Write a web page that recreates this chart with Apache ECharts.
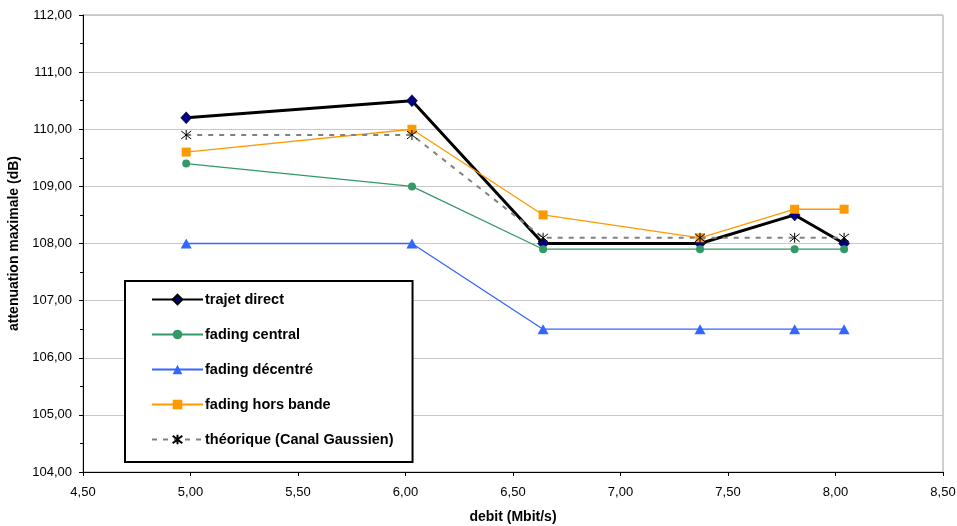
<!DOCTYPE html>
<html>
<head>
<meta charset="utf-8">
<script src="https://cdn.jsdelivr.net/npm/echarts@6/dist/echarts.min.js"></script>
<style>
  html, body { margin: 0; padding: 0; background: #fff; }
  #chart { width: 957px; height: 526px; }
</style>
</head>
<body>
<div id="chart"></div>
<script>
// Débit (Mbit/s) of each measurement
const debit = [4.98, 6.03, 6.64, 7.37, 7.81, 8.04];

// Atténuation maximale (dB) per channel type
const trajetDirect    = [110.2, 110.5, 108.0, 108.0, 108.5, 108.0];
const fadingCentral   = [109.4, 109.0, 107.9, 107.9, 107.9, 107.9];
const fadingDecentre  = [108.0, 108.0, 106.5, 106.5, 106.5, 106.5];
const fadingHorsBande = [109.6, 110.0, 108.5, 108.1, 108.6, 108.6];
const theorique       = [109.9, 109.9, 108.1, 108.1, 108.1, 108.1];

const seriesNames = [
  'trajet direct',
  'fading central',
  'fading décentré',
  'fading hors bande',
  'théorique (Canal Gaussien)'
];

const pairs = ys => debit.map((x, i) => [x, ys[i]]);
const fr = v => v.toFixed(2).replace('.', ',');
const FONT = "'Liberation Sans', Arial, Helvetica, sans-serif";

// asterisk marker: vertical stroke plus an X
const asterisk = 'path://M5,0L5,10M0,1L10,9M10,1L0,9';

const chart = echarts.init(document.getElementById('chart'), null, { renderer: 'canvas' });

chart.setOption({
  backgroundColor: '#ffffff',
  animation: false,
  textStyle: { fontFamily: FONT },
  grid: {
    left: 83, top: 15, right: 14, bottom: 54,
    containLabel: false,
    outerBoundsMode: 'none',
    show: true, borderColor: '#a0a0a0', borderWidth: 1, backgroundColor: '#ffffff'
  },
  legend: {
    orient: 'vertical',
    left: 125, top: 281,
    padding: [11, 19, 15, 26],
    itemWidth: 51,
    itemHeight: 12,
    itemGap: 20,
    backgroundColor: '#ffffff',
    borderColor: '#000000',
    borderWidth: 2,
    borderRadius: 0,
    textStyle: { fontFamily: FONT, fontSize: 14.5, fontWeight: 'bold', color: '#000', padding: [0, 0, 0, -3] },
    data: seriesNames
  },
  xAxis: {
    type: 'value',
    min: 4.5, max: 8.5, interval: 0.5,
    name: 'debit (Mbit/s)',
    nameLocation: 'middle',
    nameGap: 38,
    nameTextStyle: { fontFamily: FONT, fontSize: 14, fontWeight: 'bold', color: '#000' },
    axisLine: { show: true, onZero: false, lineStyle: { color: '#000', width: 1 } },
    axisTick: { show: true, length: 4, lineStyle: { color: '#000' } },
    axisLabel: { formatter: fr, fontFamily: FONT, fontSize: 13, color: '#000', margin: 14 },
    splitLine: { show: false }
  },
  yAxis: {
    type: 'value',
    min: 104, max: 112, interval: 1,
    name: 'attenuation maximale (dB)',
    nameLocation: 'middle',
    nameGap: 59,
    nameTextStyle: { fontFamily: FONT, fontSize: 14, fontWeight: 'bold', color: '#000' },
    axisLine: { show: true, onZero: false, lineStyle: { color: '#000', width: 1 } },
    axisTick: { show: true, length: 4, lineStyle: { color: '#000' } },
    minorTick: { show: true, splitNumber: 2, length: 3, lineStyle: { color: '#000' } },
    axisLabel: { formatter: fr, fontFamily: FONT, fontSize: 13, color: '#000', margin: 11 },
    splitLine: { show: true, lineStyle: { color: '#c8c8c8', width: 1 } }
  },
  series: [
    {
      name: seriesNames[0], type: 'line', data: pairs(trajetDirect),
      symbol: 'diamond', symbolSize: [11, 12],
      lineStyle: { color: '#000000', width: 3 },
      itemStyle: { color: '#000080', borderColor: '#000000', borderWidth: 0.5 },
      z: 2
    },
    {
      name: seriesNames[1], type: 'line', data: pairs(fadingCentral),
      symbol: 'circle', symbolSize: 8,
      lineStyle: { color: '#339966', width: 1.3 },
      itemStyle: { color: '#339966' },
      z: 3
    },
    {
      name: seriesNames[2], type: 'line', data: pairs(fadingDecentre),
      symbol: 'triangle', symbolSize: [11, 10],
      lineStyle: { color: '#3366ff', width: 1.3 },
      itemStyle: { color: '#3366ff' },
      z: 3
    },
    {
      name: seriesNames[3], type: 'line', data: pairs(fadingHorsBande),
      symbol: 'rect', symbolSize: 9,
      lineStyle: { color: '#ff9900', width: 1.3 },
      itemStyle: { color: '#ff9900' },
      z: 3
    },
    {
      name: seriesNames[4], type: 'line', data: pairs(theorique),
      symbol: asterisk, symbolSize: 10,
      lineStyle: { color: '#808080', width: 2, type: [5, 6] },
      itemStyle: { color: 'transparent', borderColor: '#000000', borderWidth: 1 },
      z: 4
    }
  ]
});
</script>
</body>
</html>
